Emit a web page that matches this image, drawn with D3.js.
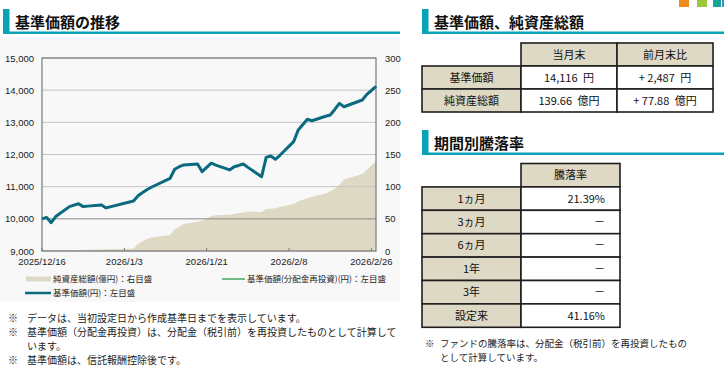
<!DOCTYPE html>
<html>
<head>
<meta charset="utf-8">
<script src="https://cdn.jsdelivr.net/npm/d3@7"></script>
<style>
  body { margin: 0; background: #fff; }
  svg { display: block; }
  .jp { font-family: "Noto Sans CJK JP", sans-serif; }
  .num { font-family: "Liberation Sans", Arial, sans-serif; }
</style>
</head>
<body>
<div id="chart"></div>
<script>
// business days
var dates = [
    "2025/12/16", "2025/12/17", "2025/12/18", "2025/12/19", "2025/12/22", "2025/12/23",
    "2025/12/24", "2025/12/25", "2025/12/26", "2025/12/29", "2025/12/30", "2026/1/5",
    "2026/1/6", "2026/1/7", "2026/1/8", "2026/1/9", "2026/1/13", "2026/1/14",
    "2026/1/15", "2026/1/16", "2026/1/19", "2026/1/20", "2026/1/21", "2026/1/22",
    "2026/1/23", "2026/1/26", "2026/1/27", "2026/1/28", "2026/1/29", "2026/1/30",
    "2026/2/2", "2026/2/3", "2026/2/4", "2026/2/5", "2026/2/6", "2026/2/9",
    "2026/2/10", "2026/2/12", "2026/2/13", "2026/2/16", "2026/2/17", "2026/2/18",
    "2026/2/19", "2026/2/20", "2026/2/24", "2026/2/25", "2026/2/26", "2026/2/27"
];

// 基準価額 (円)
var navValues = [
    10000, 10046, 9880, 10070, 10380, 10425,
    10470, 10380, 10395, 10430, 10340, 10555,
    10720, 10820, 10910, 10990, 11260, 11540,
    11620, 11675, 11705, 11465, 11600, 11730,
    11670, 11520, 11620, 11660, 11705, 11600,
    11310, 11910, 11955, 11850, 11975, 12400,
    12760, 13095, 13050, 13190, 13230, 13400,
    13590, 13485, 13695, 13870, 13990, 14116
];

// 基準価額(分配金再投資) - no distributions, same as above
var navReinvValues = navValues.slice();

// 純資産総額 (億円)
var assetValues = [
    1.0, 1.1, 1.1, 1.2, 1.3, 1.4,
    1.5, 1.6, 1.8, 2.2, 2.6, 3.6,
    11, 15, 19, 21, 25, 33.5,
    38, 42, 45.5, 47.5, 51, 54,
    55.5, 56.5, 57.5, 59, 60, 61.5,
    60.5, 64.8, 65.5, 66.3, 68.5, 73,
    77.5, 82, 84.4, 89.5, 93, 97,
    102.6, 111, 119.7, 126, 133, 139.66
];

var leftTicks = [9000, 10000, 11000, 12000, 13000, 14000, 15000];
var rightTicks = [0, 50, 100, 150, 200, 250, 300];
var xTickLabels = ["2025/12/16", "2026/1/3", "2026/1/21", "2026/2/8", "2026/2/26"];

var legendLabels = ["純資産総額(億円)：右目盛", "基準価額(分配金再投資)(円)：左目盛", "基準価額(円)：左目盛"];

var notesLeft = [
    ["データは、当初設定日から作成基準日までを表示しています。"],
    ["基準価額（分配金再投資）は、分配金（税引前）を再投資したものとして計算して", "います。"],
    ["基準価額は、信託報酬控除後です。"]
];

var table1Cols = ["当月末", "前月末比"];
var table1Rows = ["基準価額", "純資産総額"];
var table1Values = [["14,116\u2002円", "+ 2,487\u2002円"], ["139.66\u2002億円", "+ 77.88\u2002億円"]];

var periods = ["1ヵ月", "3ヵ月", "6ヵ月", "1年", "3年", "設定来"];
var returns = ["21.39%", "－", "－", "－", "－", "41.16%"];
var notesRight = ["ファンドの騰落率は、分配金（税引前）を再投資したもの", "として計算しています。"];

var teal = "#0aa2b6",
    beige = "#ddd9c4",
    lineBlue = "#0b6a80",
    lineGreen = "#1f8f3c";

var parseDate = d3.timeParse("%Y/%m/%d");

var data = dates.map(function(d, i) {
    return {
        date: parseDate(d),
        nav: navValues[i],
        reinv: navReinvValues[i],
        asset: assetValues[i]
    };
});

var svg = d3.select("#chart")
    .append("svg")
    .attr("width", 724)
    .attr("height", 369);

// faint panel behind the chart image
svg.append("rect").attr("x", 0).attr("y", 37).attr("width", 400).attr("height", 265)
    .attr("fill", "#f8f8f8");

// section headers
function header(x, y, w, title) {
    svg.append("rect").attr("x", x).attr("y", y).attr("width", 6.5).attr("height", 24).attr("fill", teal);
    svg.append("rect").attr("x", x).attr("y", y + 22.5).attr("width", w).attr("height", 2.5).attr("fill", teal);
    svg.append("text").attr("class", "jp")
        .attr("x", x + 12).attr("y", y + 18.5)
        .attr("font-size", 15).attr("font-weight", 700).attr("fill", "#111")
        .text(title);
}
header(3, 9, 397, "基準価額の推移");
header(422, 9, 302, "基準価額、純資産総額");
header(422, 130, 302, "期間別騰落率");

// corner squares
var squareColors = ["#f28a1e", "#9cc83c", "#17a59a", "#3a8fd0"];
var squareX = [679, 697, 713, 722];
var squareW = [10, 10, 8, 10];
svg.selectAll(".sq").data(squareColors).enter().append("rect")
    .attr("x", function(d, i) { return squareX[i]; })
    .attr("y", 0).attr("width", function(d, i) { return squareW[i]; }).attr("height", 7)
    .attr("fill", function(d) { return d; });

// ---- chart ----
var plot = { left: 42, right: 376, top: 58, bottom: 251 };

var x = d3.scaleTime()
    .domain([parseDate("2025/12/16"), parseDate("2026/2/27")])
    .range([plot.left, plot.right]);

var yL = d3.scaleLinear().domain([9000, 15000]).range([plot.bottom, plot.top]);
var yR = d3.scaleLinear().domain([0, 300]).range([plot.bottom, plot.top]);

// area (net assets)
svg.append("path")
    .datum(data)
    .attr("fill", beige)
    .attr("d", d3.area()
        .x(function(d) { return x(d.date); })
        .y0(plot.bottom)
        .y1(function(d) { return yR(d.asset); }));

// grid
svg.selectAll(".grid").data(leftTicks).enter().append("line")
    .attr("x1", plot.left).attr("x2", plot.right)
    .attr("y1", function(d) { return yL(d); })
    .attr("y2", function(d) { return yL(d); })
    .attr("stroke", function(d) { return d === 10000 ? "#8a8a8a" : "#c4c4c4"; })
    .attr("stroke-width", 1);

// frame
svg.append("rect")
    .attr("x", plot.left).attr("y", plot.top)
    .attr("width", plot.right - plot.left).attr("height", plot.bottom - plot.top)
    .attr("fill", "none").attr("stroke", "#7a7a7a").attr("stroke-width", 1.2);

// x ticks (inside)
svg.selectAll(".xt").data(xTickLabels).enter().append("line")
    .attr("x1", function(d) { return x(parseDate(d)); })
    .attr("x2", function(d) { return x(parseDate(d)); })
    .attr("y1", plot.bottom).attr("y2", plot.bottom - 3)
    .attr("stroke", "#7a7a7a");

// lines
var line = function(key) {
    return d3.line()
        .x(function(d) { return x(d.date); })
        .y(function(d) { return yL(d[key]); });
};

svg.append("path").datum(data)
    .attr("fill", "none").attr("stroke", lineGreen).attr("stroke-width", 1.5)
    .attr("d", line("reinv"));

svg.append("path").datum(data)
    .attr("fill", "none").attr("stroke", lineBlue).attr("stroke-width", 3)
    .attr("stroke-linejoin", "round")
    .attr("d", line("nav"));

// axis labels
svg.selectAll(".yl").data(leftTicks).enter().append("text")
    .attr("class", "num")
    .attr("x", 34).attr("y", function(d) { return yL(d) + 3.5; })
    .attr("text-anchor", "end").attr("font-size", 9.5).attr("fill", "#222")
    .text(d3.format(","));

svg.selectAll(".yr").data(rightTicks).enter().append("text")
    .attr("class", "num")
    .attr("x", 385).attr("y", function(d) { return yR(d) + 3.5; })
    .attr("font-size", 9.5).attr("fill", "#222")
    .text(function(d) { return d; });

svg.selectAll(".xl").data(xTickLabels).enter().append("text")
    .attr("class", "num")
    .attr("x", function(d) { return x(parseDate(d)); })
    .attr("y", 265)
    .attr("text-anchor", "middle").attr("font-size", 9.5).attr("fill", "#222")
    .text(function(d) { return d; });

// legend
svg.append("rect").attr("x", 26).attr("y", 276.5).attr("width", 25).attr("height", 5).attr("fill", beige);
svg.append("line").attr("x1", 222).attr("x2", 245).attr("y1", 279).attr("y2", 279)
    .attr("stroke", lineGreen).attr("stroke-width", 1.2);
svg.append("line").attr("x1", 25).attr("x2", 51).attr("y1", 293).attr("y2", 293)
    .attr("stroke", lineBlue).attr("stroke-width", 2.5);

var legendPos = [[53, 282], [247, 282], [53, 296]];
svg.selectAll(".lg").data(legendLabels).enter().append("text")
    .attr("class", "jp")
    .attr("x", function(d, i) { return legendPos[i][0]; })
    .attr("y", function(d, i) { return legendPos[i][1]; })
    .attr("font-size", 8.5).attr("fill", "#222")
    .text(function(d) { return d; });

// notes (left)
var noteY = [321.5, 335.7, 364.1];
notesLeft.forEach(function(n, i) {
    svg.append("text").attr("class", "jp").attr("x", 8).attr("y", noteY[i])
        .attr("font-size", 10).attr("fill", "#222").text("※");
    var t = svg.append("text").attr("class", "jp").attr("y", noteY[i])
        .attr("font-size", 10).attr("fill", "#222");
    n.forEach(function(s, k) {
        t.append("tspan").attr("x", 27).attr("dy", k === 0 ? 0 : 14.2).text(s);
    });
});

// ---- tables ----
function cell(x0, y0, w, h, fill, txt, anchor) {
    svg.append("rect").attr("x", x0).attr("y", y0).attr("width", w).attr("height", h)
        .attr("fill", fill).attr("stroke", "#1e1e1e").attr("stroke-width", 1.6);
    var tx = anchor === "end" ? x0 + w - 15 : x0 + w / 2;
    svg.append("text").attr("class", "jp")
        .attr("x", tx).attr("y", y0 + h / 2 + 4)
        .attr("text-anchor", anchor || "middle")
        .attr("font-size", 11).attr("fill", "#111")
        .text(txt);
}

var t1 = { x: [422, 521, 617, 713], y0: 43, h: 23 };
table1Cols.forEach(function(c, j) {
    cell(t1.x[j + 1], t1.y0, t1.x[j + 2] - t1.x[j + 1], t1.h, beige, c);
});
table1Rows.forEach(function(r, i) {
    var yy = t1.y0 + t1.h * (i + 1);
    cell(t1.x[0], yy, t1.x[1] - t1.x[0], t1.h, beige, r);
    table1Values[i].forEach(function(v, j) {
        cell(t1.x[j + 1], yy, t1.x[j + 2] - t1.x[j + 1], t1.h, "#fff", v);
    });
});

var t2 = { x: [422, 521, 620], y0: 163.5, h: 23.4 };
cell(t2.x[1], t2.y0, t2.x[2] - t2.x[1], t2.h, beige, "騰落率");
periods.forEach(function(p, i) {
    var yy = t2.y0 + t2.h * (i + 1);
    cell(t2.x[0], yy, t2.x[1] - t2.x[0], t2.h, beige, p);
    cell(t2.x[1], yy, t2.x[2] - t2.x[1], t2.h, "#fff", returns[i], "end");
});

// notes (right)
svg.append("text").attr("class", "jp").attr("x", 425).attr("y", 347)
    .attr("font-size", 9.5).attr("fill", "#222").text("※");
var nr = svg.append("text").attr("class", "jp").attr("y", 347)
    .attr("font-size", 9.5).attr("fill", "#222");
notesRight.forEach(function(n, i) {
    nr.append("tspan").attr("x", 440).attr("dy", i === 0 ? 0 : 14).text(n);
});
</script>
</body>
</html>
